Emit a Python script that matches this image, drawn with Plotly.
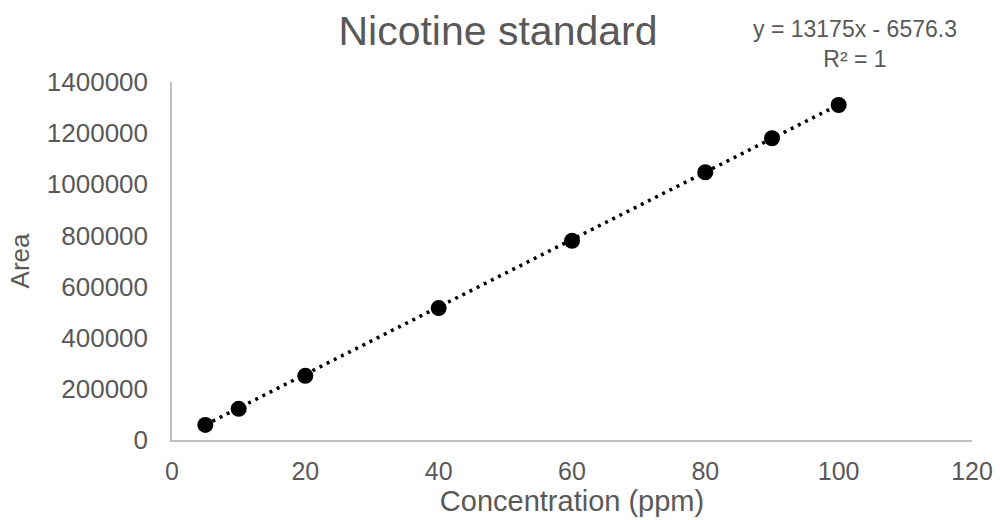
import plotly.graph_objects as go

# Data
concentration_ppm = [5, 10, 20, 40, 60, 80, 90, 100]
area = [59000, 122000, 251000, 516000, 779000, 1047000, 1180000, 1310000]

# Trendline equation shown on the chart
slope = 13175
intercept = -6576.3
r_squared = 1

x_ticks = [0, 20, 40, 60, 80, 100, 120]
y_ticks = [0, 200000, 400000, 600000, 800000, 1000000, 1200000, 1400000]

title_text = "Nicotine standard"
x_title = "Concentration (ppm)"
y_title = "Area"

FONT = "Liberation Sans, Arial, sans-serif"
GRAY = "#595959"
AXIS = "#bfbfbf"

trend_x = [min(concentration_ppm), max(concentration_ppm)]
trend_y = [slope * v + intercept for v in trend_x]

fig = go.Figure()
fig.add_trace(go.Scatter(
    x=trend_x, y=trend_y, mode="lines",
    line=dict(color="black", width=3.5, dash="3px,5px"),
    hoverinfo="skip", showlegend=False,
))
fig.add_trace(go.Scatter(
    x=concentration_ppm, y=area, mode="markers",
    marker=dict(color="black", size=16, line=dict(width=0)),
    showlegend=False,
))

fig.update_layout(
    width=1000, height=520,
    margin=dict(l=172, r=28, t=82, b=80, autoexpand=False),
    paper_bgcolor="white", plot_bgcolor="white",
    font=dict(family=FONT, color=GRAY),
    title=dict(text=title_text, x=0.498, xanchor="center", y=1 - 31 / 520, yanchor="middle",
               font=dict(size=41, color=GRAY, family=FONT)),
    xaxis=dict(
        range=[0, 120], tickvals=x_ticks, ticktext=[str(v) for v in x_ticks],
        showgrid=False, zeroline=False, showline=True, linecolor=AXIS, linewidth=1.5,
        ticks="", tickfont=dict(size=25, color=GRAY), ticklabelstandoff=8,
        automargin=False,
        title=dict(text=x_title, font=dict(size=29, color=GRAY), standoff=6),
    ),
    yaxis=dict(
        range=[0, 1400000], tickvals=y_ticks, ticktext=[str(v) for v in y_ticks],
        showgrid=False, zeroline=False, showline=True, linecolor=AXIS, linewidth=1.5,
        ticks="", tickfont=dict(size=26, color=GRAY), ticklabelstandoff=17,
        automargin=False,
        title=dict(text=y_title, font=dict(size=26, color=GRAY), standoff=10),
    ),
    annotations=[
        dict(text=f"y = {slope}x - {abs(intercept)}<br>R² = {r_squared}",
             xref="paper", yref="paper", x=(855 - 172) / 800, y=(440 - 44) / 358,
             xanchor="center", yanchor="middle", showarrow=False, align="center",
             font=dict(size=23, color=GRAY, family=FONT)),
    ],
)

fig.write_html(
    "out.html",
    config={"displayModeBar": False},
    post_script="document.body.style.margin='0';document.body.style.overflow='hidden';",
)
